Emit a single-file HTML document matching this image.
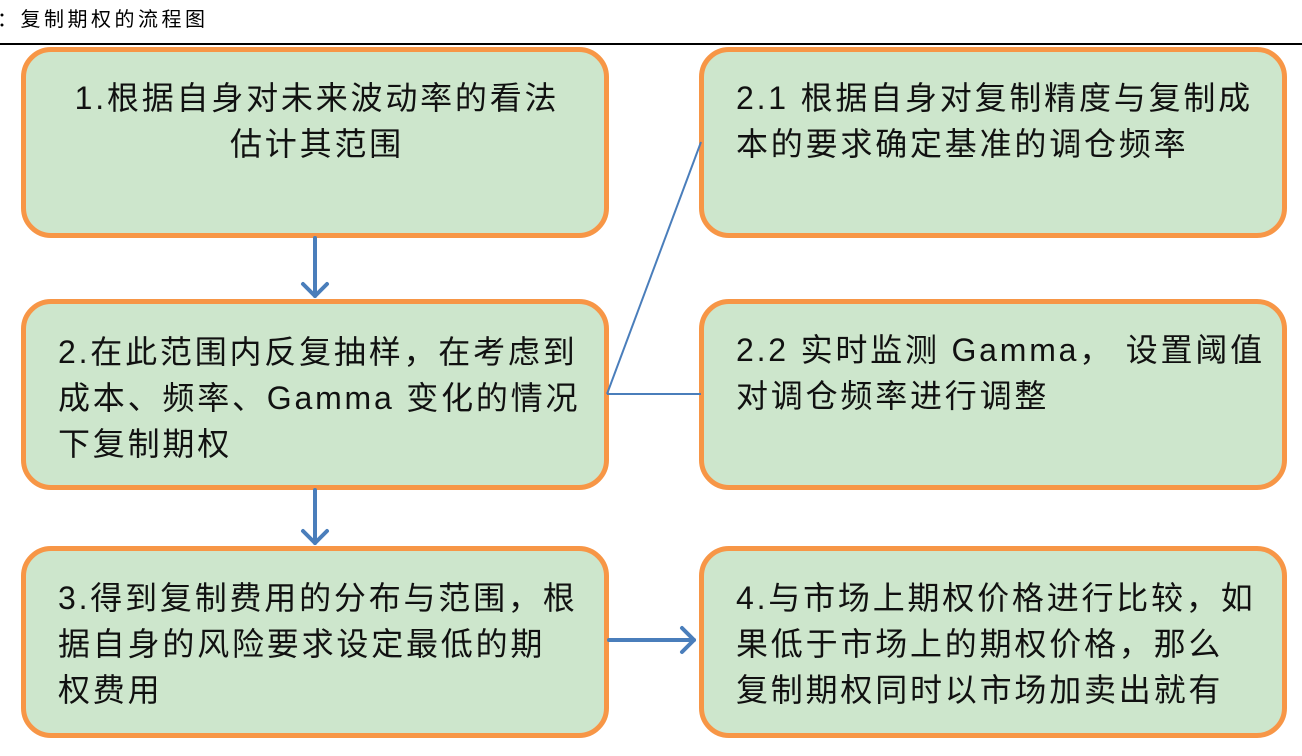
<!DOCTYPE html>
<html><head><meta charset="utf-8"><style>
body{margin:0;width:1302px;height:756px;background:#fff;position:relative;overflow:hidden;font-family:"Liberation Sans","Noto Sans CJK SC",sans-serif}
.t{position:absolute;left:-3px;top:3px;font-size:20px;letter-spacing:3.5px;color:#000}
.hl{position:absolute;left:0;top:43px;width:1302px;height:2px;background:#000}
.b{position:absolute;box-sizing:border-box;border:5px solid #F79646;border-radius:30px;background:#CDE6CC;font-size:32px;letter-spacing:2.8px;line-height:46px;color:#111;padding:23px 10px 0 32px;white-space:nowrap}
</style></head><body>
<div class="t">：复制期权的流程图</div>
<div class="hl"></div>
<div class="b" style="left:21px;top:47px;width:588px;height:191px;text-align:center;padding-left:4px;padding-right:0px">1.根据自身对未来波动率的看法<br>估计其范围</div>
<div class="b" style="left:21px;top:299px;width:588px;height:191px;padding-top:25px">2.在此范围内反复抽样，在考虑到<br>成本、频率、Gamma 变化的情况<br>下复制期权</div>
<div class="b" style="left:21px;top:546px;width:588px;height:192px;padding-top:24px">3.得到复制费用的分布与范围，根<br>据自身的风险要求设定最低的期<br>权费用</div>
<div class="b" style="left:699px;top:47px;width:588px;height:191px">2.1 根据自身对复制精度与复制成<br>本的要求确定基准的调仓频率</div>
<div class="b" style="left:699px;top:299px;width:588px;height:191px;padding-top:23px">2.2 实时监测 Gamma， 设置阈值<br>对调仓频率进行调整</div>
<div class="b" style="left:699px;top:546px;width:588px;height:192px;padding-top:24px">4.与市场上期权价格进行比较，如<br>果低于市场上的期权价格，那么<br>复制期权同时以市场加卖出就有</div>
<svg width="1302" height="756" style="position:absolute;left:0;top:0">
<g stroke="#4A7EBB" fill="none">
<line x1="607" y1="394" x2="701" y2="142" stroke-width="2"/>
<line x1="607" y1="394" x2="701" y2="394" stroke-width="2"/>
<g stroke-width="4" stroke-linecap="round" stroke-linejoin="round">
<line x1="315" y1="238" x2="315" y2="296"/><polyline points="303,284 315,296 327,284"/>
<line x1="315" y1="490" x2="315" y2="543"/><polyline points="303,531 315,543 327,531"/>
<line x1="609" y1="640" x2="694" y2="640"/><polyline points="682,628 694,640 682,652"/>
</g></g></svg>
</body></html>
